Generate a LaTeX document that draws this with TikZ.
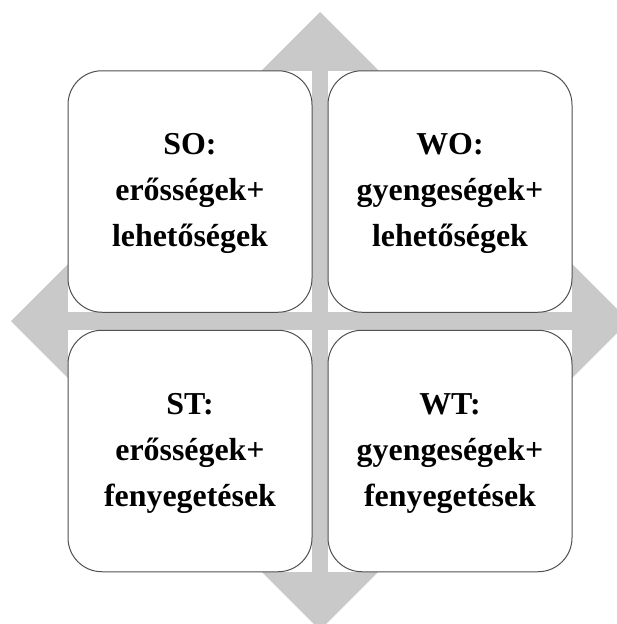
\documentclass[tikz,border=0pt]{standalone}
\usepackage{fontspec}
\setmainfont{Liberation Serif}
\definecolor{arrowgray}{RGB}{201,201,201}
\definecolor{edgegray}{RGB}{80,80,80}
\begin{document}
\begin{tikzpicture}[x=1pt,y=-1pt,
  quad/.style={draw=edgegray, line width=1pt, fill=white, rounded corners=34pt,
    minimum width=244pt, minimum height=241.5pt, inner sep=0pt, outer sep=0pt},
  quadtext/.style={align=center, inner sep=0pt, yshift=-2.3pt,
    font=\bfseries\fontsize{31.9}{46}\selectfont},
  backwhite/.style={fill=white, draw=none}]
\useasboundingbox (0,0) rectangle (617,624);
\clip (0,0) rectangle (617,624);
% gray diamond (arrows)
\fill[arrowgray] (320,12) -- (629,321) -- (320,630) -- (11,321) -- cycle;
% white rectangles behind the boxes
\fill[backwhite] (68,70.7) rectangle (312,312.3);
\fill[backwhite] (328,70.7) rectangle (572,312.3);
\fill[backwhite] (68,330) rectangle (312,572);
\fill[backwhite] (328,330) rectangle (572,572);
% boxes
\node[quad] (so) at (190,191.5) {};
\node[quad] (wo) at (450,191.5) {};
\node[quad] (st) at (190,451) {};
\node[quad] (wt) at (450,451) {};
\node[quadtext] (sotext) at (so.center) {SO:\\erősségek+\\lehetőségek};
\node[quadtext] (wotext) at (wo.center) {WO:\\gyengeségek+\\lehetőségek};
\node[quadtext] (sttext) at (st.center) {ST:\\erősségek+\\fenyegetések};
\node[quadtext] (wttext) at (wt.center) {WT:\\gyengeségek+\\fenyegetések};
\end{tikzpicture}
\end{document}
